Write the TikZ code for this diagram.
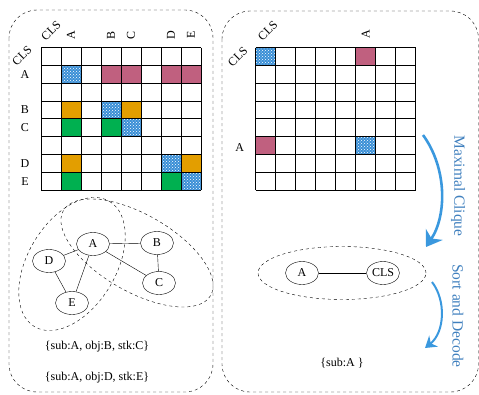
\documentclass[tikz,border=0pt]{standalone}
\usepackage{fontspec}
\setmainfont{Liberation Serif}
\usetikzlibrary{patterns,arrows.meta,shapes.geometric}
\definecolor{cellpink}{HTML}{C0607F}
\definecolor{cellorange}{HTML}{E39E00}
\definecolor{cellgreen}{HTML}{00B050}
\definecolor{cellblue}{HTML}{3A8FD6}
\definecolor{flowblue}{HTML}{3A98DE}
\definecolor{flowtext}{HTML}{4080BE}
\begin{document}
\begin{tikzpicture}[x=1pt,y=-1pt,
   gnode/.style={ellipse,draw=black,thin,inner sep=0,minimum width=33pt,minimum height=23pt,font=\fontsize{12}{14}\selectfont},
   cell1/.style={fill=cellpink},
   cell2/.style={fill=cellorange},
   cell3/.style={fill=cellgreen},
   cell4/.style={fill=cellblue,postaction={pattern=crosshatch dots,pattern color=white}},
   lbl/.style={font=\fontsize{12}{14}\selectfont,inner sep=0},
   panel/.style={dashed,rounded corners=28pt},
   group/.style={dashed},
   flow/.style={draw=flowblue,line width=2.6pt,-{Stealth[length=15pt,width=20pt]}},
   flowlabel/.style={rotate=-90,text=flowtext,font=\fontsize{15.5}{17}\selectfont}
  ]
  \useasboundingbox (0,0) rectangle (479,394);
  \draw[panel] (9,10) rectangle (213,392);
  \draw[panel] (222,11) rectangle (478.5,392);

  \begin{scope}[shift={(41,47.7)},x=20pt,y=-17.8pt]
    \foreach \c in {3,4,6,7} \fill[cell1] (\c,1) rectangle ++(1,1);
    \foreach \c/\r in {1/3,4/3,1/6,7/6} \fill[cell2] (\c,\r) rectangle ++(1,1);
    \foreach \c/\r in {1/4,3/4,1/7,6/7} \fill[cell3] (\c,\r) rectangle ++(1,1);
    \foreach \c/\r in {1/1,3/3,4/4,6/6,7/7} \fill[cell4] (\c,\r) rectangle ++(1,1);
    \foreach \i in {0,...,8} {
      \draw[line width=0.9pt] (\i,0) -- (\i,8);
      \draw[line width=0.9pt] (0,\i) -- (8,\i);
    }
    \node[lbl,rotate=45] (lcls1) at (0.5,-0.95) {CLS};
    \node[lbl,rotate=45] (lcls2) at (-0.95,0.45) {CLS};
    \foreach \n/\p in {A/1,B/3,C/4,D/6,E/7} {
      \node[lbl,rotate=90] (lc\n) at (\p+0.5,-0.7) {\n};
      \node[lbl] (lr\n) at (-0.8,\p+0.5) {\n};
    }
  \end{scope}

  \begin{scope}[shift={(255.7,47.7)},x=20pt,y=-17.8pt]
    \fill[cell1] (5,0) rectangle ++(1,1);
    \fill[cell1] (0,5) rectangle ++(1,1);
    \fill[cell4] (0,0) rectangle ++(1,1);
    \fill[cell4] (5,5) rectangle ++(1,1);
    \foreach \i in {0,...,8} {
      \draw[line width=0.9pt] (\i,0) -- (\i,8);
      \draw[line width=0.9pt] (0,\i) -- (8,\i);
    }
    \node[lbl,rotate=45] (rcls1) at (0.6,-0.95) {CLS};
    \node[lbl,rotate=45] (rcls2) at (-0.9,0.5) {CLS};
    \node[lbl,rotate=90] (rcA) at (5.5,-0.75) {A};
    \node[lbl] (rrA) at (-0.8,5.6) {A};
  \end{scope}

  \draw[group,rotate around={59:(72,264)}] (72,264) ellipse [x radius=73,y radius=44];
  \draw[group,rotate around={-30:(137,253)}] (137,253) ellipse [x radius=85,y radius=38.5];
  \node[gnode] (A) at (93,244) {A};
  \node[gnode] (B) at (157,243) {B};
  \node[gnode] (C) at (159,283) {C};
  \node[gnode] (D) at (49,261) {D};
  \node[gnode] (E) at (72,303) {E};
  \draw (A) -- (B);
  \draw (A) -- (C);
  \draw (A) -- (D);
  \draw (A) -- (E);
  \draw (B) -- (C);
  \draw (D) -- (E);
  \node[lbl] (t1) at (97,347) {\{sub:A, obj:B, stk:C\}};
  \node[lbl] (t2) at (97,378) {\{sub:A, obj:D, stk:E\}};

  \node[group,draw,ellipse,minimum width=168pt,minimum height=53pt] (clq) at (342,273) {};
  \node[gnode] (a2) at (302,273) {A};
  \node[gnode] (cls) at (383,273) {CLS};
  \draw (a2) -- (cls);
  \node[lbl] (res) at (342,363) {\{sub:A \}};

  \coordinate (f1s) at (423,135);
  \coordinate (f1e) at (426,247);
  \draw[flow] (f1s) .. controls (447,168) and (447,215) .. (f1e);
  \coordinate (f2s) at (432,282);
  \coordinate (f2e) at (425,348);
  \draw[flow,line width=2pt,-{Stealth[length=11pt,width=14pt]}] (f2s) .. controls (446,300) and (445,332) .. (f2e);
  \node[flowlabel] (m1) at (458,186) {Maximal Clique};
  \node[flowlabel] (m2) at (458,316) {Sort and Decode};
\end{tikzpicture}
\end{document}
